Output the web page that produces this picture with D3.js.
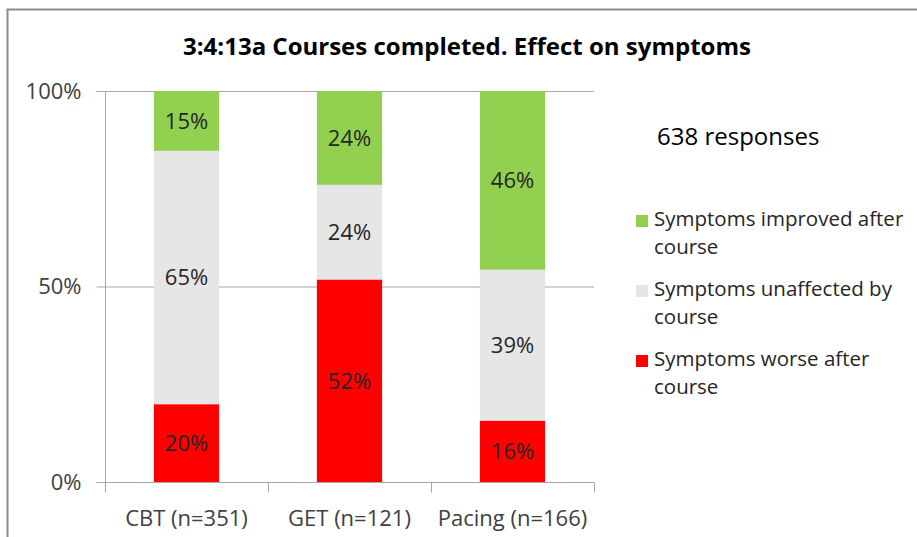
<!DOCTYPE html>
<html>
<head>
<meta charset="utf-8">
<script src="https://cdn.jsdelivr.net/npm/d3@7"></script>
<style>
  body { margin: 0; background: #fff; }
  svg { display: block; font-family: "Open Sans", Lato, sans-serif; }
</style>
</head>
<body>
<svg class="courses" width="917" height="537"></svg>
<script>
// Data (percent of each course's responses)
var courses = ["CBT (n=351)", "GET (n=121)", "Pacing (n=166)"];
var worse = [19.9, 51.8, 15.7];
var unaffected = [64.8, 24.2, 38.6];
var improved = [15.3, 24.0, 45.7];
var seriesNames = ["Symptoms worse after course", "Symptoms unaffected by course", "Symptoms improved after course"];
var yTicks = [0, 50, 100];
var title = "3:4:13a Courses completed. Effect on symptoms";
var note = "638 responses";

var svg = d3.select("svg.courses");

//Colors
var colorWorse = "#FF0000",
    colorSame = "#E6E6E6",
    colorBetter = "#92D050",
    axisColor = "#A6A6A6",
    textColor = "#262626";

// chart frame (only top and left edges show in the crop)
svg.append("path")
    .attr("d", "M7.5,537 V9.5 H917")
    .attr("fill", "none")
    .attr("stroke", "#8C8C8C")
    .attr("stroke-width", 2);

var plot = {left: 105, right: 594, top: 91, bottom: 482};

var x = d3.scaleBand()
    .domain(courses)
    .range([plot.left, plot.right])
    .paddingInner(0.6)
    .paddingOuter(0.3);
var y = d3.scaleLinear().domain([0, 100]).range([plot.bottom, plot.top]);

// Gridlines behind bars
svg.append("g")
    .selectAll("line")
    .data(yTicks.filter(function(d) { return d > 0; }))
    .enter().append("line")
    .attr("x1", plot.left).attr("x2", plot.right)
    .attr("y1", function(d) { return y(d) + 0.5; })
    .attr("y2", function(d) { return y(d) + 0.5; })
    .attr("stroke", axisColor);

// Stack the three series
var table = courses.map(function(c, i) {
    return {course: c, worse: worse[i], unaffected: unaffected[i], improved: improved[i]};
});
var keys = ["worse", "unaffected", "improved"];
var colors = [colorWorse, colorSame, colorBetter];
var stacked = d3.stack().keys(keys)(table);

var layers = svg.append("g").selectAll("g")
    .data(stacked)
    .enter().append("g")
    .attr("fill", function(d, i) { return colors[i]; });

layers.selectAll("rect")
    .data(function(d) { return d; })
    .enter().append("rect")
    .attr("x", function(d) { return x(d.data.course); })
    .attr("width", x.bandwidth())
    .attr("y", function(d) { return y(d[1]); })
    .attr("height", function(d) { return y(d[0]) - y(d[1]); });

layers.selectAll("text")
    .data(function(d) { return d; })
    .enter().append("text")
    .attr("x", function(d) { return x(d.data.course) + x.bandwidth() / 2; })
    .attr("y", function(d) { return (y(d[0]) + y(d[1])) / 2; })
    .attr("dy", "0.36em")
    .attr("text-anchor", "middle")
    .attr("font-size", "22px")
    .attr("fill", textColor)
    .text(function(d) { return Math.round(d[1] - d[0]) + "%"; });

// Axes
var yAxis = d3.axisLeft(y)
    .tickValues(yTicks)
    .tickSize(9)
    .tickPadding(15)
    .tickFormat(function(d) { return d + "%"; });
var gy = svg.append("g")
    .attr("transform", "translate(" + (plot.left + 0.5) + ",0)")
    .call(yAxis);

var xAxis = d3.axisBottom(x).tickSize(0).tickPadding(28);
var gx = svg.append("g")
    .attr("transform", "translate(0," + (plot.bottom + 0.5) + ")")
    .call(xAxis);
// category separator ticks, Excel style
gx.selectAll(".sep")
    .data(d3.range(courses.length + 1))
    .enter().append("line")
    .attr("class", "sep")
    .attr("x1", function(i) { return Math.round(plot.left + i * x.step()) + 0.5; })
    .attr("x2", function(i) { return Math.round(plot.left + i * x.step()) + 0.5; })
    .attr("y1", 0).attr("y2", 10);

[gx, gy].forEach(function(g) {
    g.attr("font-family", null).attr("font-size", "22px");
    g.selectAll("path, line").attr("stroke", axisColor);
    g.selectAll("text").attr("fill", "#404040");
});
gx.select(".domain").attr("d", "M" + plot.left + ",0H" + plot.right);
gy.select(".domain").attr("d", "M0," + plot.top + "V" + (plot.bottom + 10));

// Title
svg.append("text")
    .attr("x", 467)
    .attr("y", 55)
    .attr("text-anchor", "middle")
    .attr("font-size", "24px")
    .attr("font-weight", "bold")
    .attr("fill", "#000")
    .text(title);

svg.append("text")
    .attr("x", 657)
    .attr("y", 145)
    .attr("font-size", "24px")
    .attr("fill", "#000")
    .text(note);

//Legend, improved first
var legendData = [2, 1, 0].map(function(i) {
    var words = seriesNames[i].split(" ");
    return {lines: [words.slice(0, -1).join(" "), words[words.length - 1]], color: colors[i]};
});
var legend = svg.append("g").attr("font-size", "20.5px").attr("fill", textColor);
var item = legend.selectAll("g")
    .data(legendData)
    .enter().append("g")
    .attr("transform", function(d, i) { return "translate(636," + (226 + i * 70) + ")"; });
item.append("rect")
    .attr("y", -11).attr("width", 12).attr("height", 12)
    .attr("fill", function(d) { return d.color; });
item.append("text")
    .attr("x", 18)
    .selectAll("tspan")
    .data(function(d) { return d.lines; })
    .enter().append("tspan")
    .attr("x", 18)
    .attr("dy", function(d, i) { return i === 0 ? 0 : 28; })
    .text(function(d) { return d; });
</script>
</body>
</html>
